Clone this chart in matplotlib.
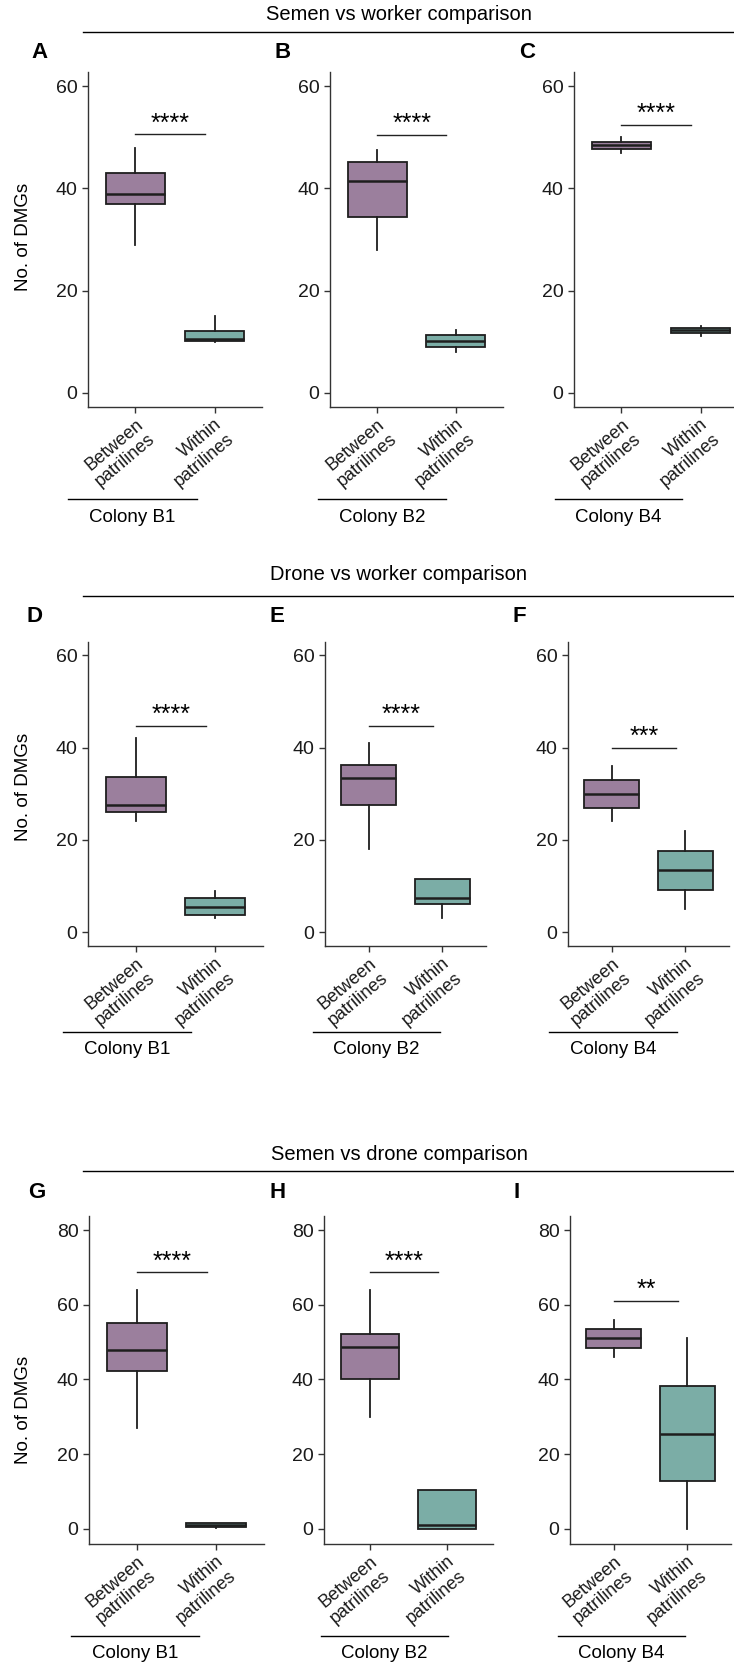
import matplotlib
matplotlib.use("Agg")
import matplotlib.pyplot as plt
from matplotlib.lines import Line2D

plt.rcParams['font.family'] = ['Liberation Sans', 'DejaVu Sans']

# chart values: box stats as [whisker low, Q1, median, Q3, whisker high]
row_titles = ["Semen vs worker comparison", "Drone vs worker comparison", "Semen vs drone comparison"]
panel_letters = [["A", "B", "C"], ["D", "E", "F"], ["G", "H", "I"]]
colonies = ["Colony B1", "Colony B2", "Colony B4"]
groups = ["Between\npatrilines", "Within\npatrilines"]

semen_worker_between = [[29, 37, 39, 43, 48], [28, 34.5, 41.5, 45.2, 47.5], [47, 47.8, 48.5, 49.1, 50]]
semen_worker_within = [[10, 10.1, 10.6, 12, 15], [8, 9, 10.2, 11.3, 12.2], [11.2, 11.7, 12.2, 12.7, 13]]
drone_worker_between = [[24, 26, 27.5, 33.7, 42], [18, 27.5, 33.5, 36.2, 41], [24, 27, 30, 33, 36]]
drone_worker_within = [[3, 3.8, 5.5, 7.5, 9], [3, 6, 7.5, 11.5, 11.6], [5, 9.2, 13.4, 17.6, 22]]
semen_drone_between = [[27, 42.3, 48, 55, 64], [30, 40, 48.7, 52.2, 64], [46, 48.5, 51, 53.5, 56]]
semen_drone_within = [[0.2, 0.5, 1.0, 1.5, 1.6], [0, 0, 1, 10.5, 10.5], [0, 12.8, 25.5, 38.3, 51]]

# significance bars (height, label)
sig_heights = [[50.6, 50.5, 52.5], [44.7, 44.7, 40], [68.8, 68.8, 61.1]]
sig_labels = [["****", "****", "****"], ["****", "****", "***"], ["****", "****", "**"]]

between_data = [semen_worker_between, drone_worker_between, semen_drone_between]
within_data = [semen_worker_within, drone_worker_within, semen_drone_within]
y_limits = [(-2.8, 62.8), (-3.0, 62.9), (-4.1, 83.8)]
y_ticks = [[0, 20, 40, 60], [0, 20, 40, 60], [0, 20, 40, 60, 80]]

# layout in pixels
W, H = 734, 1680
title_y = [15, 575, 1155]
title_line_y = [32, 596, 1171]
letter_y = [53, 617, 1192]
letter_x = [[40, 283, 527], [35, 277, 519], [37, 278, 517]]
axes_top = [72, 642, 1216]
axes_bot = [407, 946, 1544]
axes_x = [[(88, 262), (330, 503), (574, 748)],
          [(88, 263), (325, 486), (568, 729)],
          [(89, 264), (324, 493), (570, 731)]]
colony_line_y = [499, 1032, 1636]
colony_line_x = [[(68, 197), (318, 446), (555, 682)],
                 [(63, 191), (313, 440), (549, 677)],
                 [(71, 199), (321, 448), (558, 685)]]
ylabel_y = [237, 787, 1410]

purple = "#9B7F9D"
teal = "#7BADA6"
edge = "#1e1e1e"

fig = plt.figure(figsize=(W / 100, H / 100), dpi=100)


def fx(x):
    return x / W


def fy(y):
    return 1 - y / H


for r in range(3):
    # row title and line underneath
    fig.text(fx(399), fy(title_y[r]), row_titles[r], ha='center', va='center', fontsize=14.5)
    fig.add_artist(Line2D([fx(83), 1.0], [fy(title_line_y[r])] * 2, color='black', lw=1))
    fig.text(fx(24), fy(ylabel_y[r]), "No. of DMGs", rotation=90, ha='center', va='center', fontsize=13.5)

    for c in range(3):
        x0, x1 = axes_x[r][c]
        ax = fig.add_axes([fx(x0), fy(axes_bot[r]), (x1 - x0) / W, (axes_bot[r] - axes_top[r]) / H])
        stats = []
        for s in (between_data[r][c], within_data[r][c]):
            stats.append(dict(whislo=s[0], q1=s[1], med=s[2], q3=s[3], whishi=s[4], fliers=[]))
        bp = ax.bxp(stats, positions=[1, 2], widths=0.75, patch_artist=True, showcaps=False,
                    boxprops=dict(edgecolor=edge, linewidth=1.3),
                    medianprops=dict(color=edge, linewidth=1.8),
                    whiskerprops=dict(color=edge, linewidth=1.3))
        for patch, col in zip(bp['boxes'], [purple, teal]):
            patch.set_facecolor(col)

        ax.set_xlim(0.4, 2.6)
        ax.set_ylim(y_limits[r])
        ax.set_yticks(y_ticks[r])
        ax.set_xticks([1, 2])
        ax.set_xticklabels(groups, rotation=40, ha='right', rotation_mode='anchor',
                           multialignment='right', fontsize=13, linespacing=1.1)
        ax.tick_params(axis='y', labelsize=14)
        ax.tick_params(axis='x', pad=2.5)
        ax.tick_params(length=4, width=1, color='#333333', labelcolor='#1a1a1a')
        for side in ['top', 'right']:
            ax.spines[side].set_visible(False)
        for side in ['left', 'bottom']:
            ax.spines[side].set_color('#333333')
            ax.spines[side].set_linewidth(1)
        ax.patch.set_alpha(0)

        # significance bar
        h = sig_heights[r][c]
        ax.plot([1, 1.88], [h, h], color='#222222', lw=1)
        ax.annotate(sig_labels[r][c], xy=(1.44, h), xytext=(0, -1), textcoords='offset points',
                    ha='center', va='bottom', fontsize=18)

        # panel letter
        fig.text(fx(letter_x[r][c]), fy(letter_y[r]), panel_letters[r][c], ha='center', va='center',
                 fontsize=16, fontweight='bold')

        # colony line and label
        lx0, lx1 = colony_line_x[r][c]
        fig.add_artist(Line2D([fx(lx0), fx(lx1)], [fy(colony_line_y[r])] * 2, color='black', lw=1))
        fig.text(fx((lx0 + lx1) / 2), fy(colony_line_y[r] + 18), colonies[c], ha='center', va='center',
                 fontsize=13.5)

plt.savefig("out.png", dpi=100)
